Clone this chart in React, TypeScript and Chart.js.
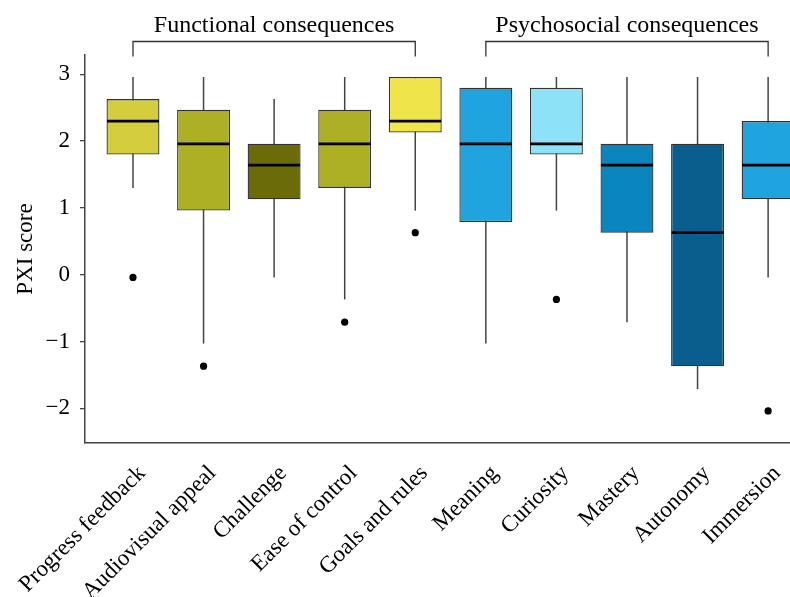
import React, { useEffect, useRef } from 'react';
import { Chart, registerables } from 'chart.js';

Chart.register(...registerables);

const FONT = "'Liberation Serif', 'Times New Roman', serif";

const categories = [
  'Progress feedback',
  'Audiovisual appeal',
  'Challenge',
  'Ease of control',
  'Goals and rules',
  'Meaning',
  'Curiosity',
  'Mastery',
  'Autonomy',
  'Immersion',
];
const whiskerLow = [1.3, -1.03, -0.04, -0.37, 0.96, -1.03, 0.96, -0.71, -1.71, -0.04];
const q1 = [1.8, 0.96, 1.13, 1.3, 2.13, 0.79, 1.8, 0.63, -1.37, 1.13];
const median = [2.3, 1.96, 1.64, 1.96, 2.3, 1.96, 1.96, 1.64, 0.63, 1.64];
const q3 = [2.63, 2.47, 1.96, 2.47, 2.96, 2.8, 2.8, 1.96, 1.96, 2.3];
const whiskerHigh = [2.96, 2.96, 2.63, 2.96, 2.96, 2.96, 2.96, 2.96, 2.96, 2.96];
const boxColors = [
  '#D4CD3D',
  '#ADB025',
  '#6B6B07',
  '#ADB025',
  '#F0E44B',
  '#1FA4E0',
  '#8DE2F7',
  '#0A85BD',
  '#0A5E8E',
  '#1FA4E0',
];
const outlierCategory = [1, 2, 4, 5, 7, 10];
const outlierValue = [-0.04, -1.37, -0.71, 0.63, -0.37, -2.04];
const yTicks = [-2, -1, 0, 1, 2, 3];
const groupLabels = ['Functional consequences', 'Psychosocial consequences'];
const groupFrom = [1, 6];
const groupTo = [5, 10];

const boxPartsPlugin = {
  id: 'boxParts',
  beforeDatasetsDraw(chart: any) {
    const { ctx, scales } = chart;
    const xs = scales.x;
    const ys = scales.y;
    ctx.save();
    ctx.strokeStyle = '#444';
    ctx.lineWidth = 1.5;
    categories.forEach((_, i) => {
      const x = xs.getPixelForValue(i + 1);
      ctx.beginPath();
      ctx.moveTo(x, ys.getPixelForValue(whiskerLow[i]));
      ctx.lineTo(x, ys.getPixelForValue(whiskerHigh[i]));
      ctx.stroke();
    });
    ctx.restore();
  },
  afterDatasetsDraw(chart: any) {
    const { ctx, scales, chartArea } = chart;
    const ys = scales.y;
    const meta = chart.getDatasetMeta(0);
    ctx.save();
    ctx.beginPath();
    ctx.rect(chartArea.left, chartArea.top, chartArea.right - chartArea.left, chartArea.bottom - chartArea.top);
    ctx.clip();
    ctx.strokeStyle = '#000';
    ctx.lineWidth = 2.8;
    meta.data.forEach((el: any, i: number) => {
      const { x, width } = el.getProps(['x', 'width'], true);
      const y = ys.getPixelForValue(median[i]);
      ctx.beginPath();
      ctx.moveTo(x - width / 2 + 0.5, y);
      ctx.lineTo(x + width / 2 - 0.5, y);
      ctx.stroke();
    });
    ctx.restore();
  },
};

const groupPlugin = {
  id: 'groupBrackets',
  afterDraw(chart: any) {
    const { ctx, chartArea, scales } = chart;
    const xs = scales.x;
    ctx.save();
    ctx.strokeStyle = '#333';
    ctx.lineWidth = 1.3;
    ctx.fillStyle = '#000';
    ctx.font = `24px ${FONT}`;
    ctx.textAlign = 'center';
    ctx.textBaseline = 'alphabetic';
    groupLabels.forEach((label, g) => {
      const x1 = xs.getPixelForValue(groupFrom[g]);
      const x2 = xs.getPixelForValue(groupTo[g]);
      const yLine = chartArea.top - 13.5;
      const yEnd = chartArea.top + 1.5;
      ctx.beginPath();
      ctx.moveTo(x1, yEnd);
      ctx.lineTo(x1, yLine);
      ctx.lineTo(x2, yLine);
      ctx.lineTo(x2, yEnd);
      ctx.stroke();
      ctx.fillText(label, (x1 + x2) / 2, chartArea.top - 23.5);
    });
    ctx.restore();
  },
};

export default function App() {
  const ref = useRef<HTMLCanvasElement | null>(null);

  useEffect(() => {
    if (!ref.current) return;
    const chart = new Chart(ref.current, {
      type: 'bar',
      data: {
        datasets: [
          {
            type: 'bar',
            data: categories.map((_, i) => ({ x: i + 1, y: [q1[i], q3[i]] })) as any,
            backgroundColor: boxColors,
            borderColor: '#333',
            borderWidth: 1.3,
            borderSkipped: false,
            barPercentage: 0.75,
            categoryPercentage: 1,
            grouped: false,
          } as any,
          {
            type: 'scatter',
            data: outlierCategory.map((c, i) => ({ x: c, y: outlierValue[i] })),
            backgroundColor: '#000',
            borderWidth: 0,
            pointRadius: 3.6,
          } as any,
        ],
      },
      options: {
        animation: false,
        responsive: false,
        devicePixelRatio: 1,
        layout: { autoPadding: false, padding: { top: 55, left: 0, right: 0, bottom: 0 } },
        plugins: { legend: { display: false }, tooltip: { enabled: false } },
        scales: {
          x: {
            type: 'linear',
            position: 'bottom',
            offset: false,
            min: 0.32,
            max: 10.31,
            afterBuildTicks: (scale: any) => {
              scale.ticks = categories.map((_, i) => ({ value: i + 1 }));
            },
            afterFit: (scale: any) => {
              scale.height = 154;
              scale.paddingRight = 0;
              scale.paddingLeft = 0;
            },
            grid: { display: false, drawTicks: false, offset: false },
            border: { display: true, color: '#444', width: 1.5 },
            ticks: {
              autoSkip: false,
              maxRotation: 45,
              minRotation: 45,
              padding: 17,
              labelOffset: 9,
              color: '#000',
              font: { family: FONT, size: 23 },
              callback: (v: any) => categories[Math.round(Number(v)) - 1],
            },
          },
          y: {
            type: 'linear',
            min: -2.52,
            max: 3.29,
            afterBuildTicks: (scale: any) => {
              scale.ticks = yTicks.map((v) => ({ value: v }));
            },
            afterFit: (scale: any) => {
              scale.width = 85;
            },
            grid: {
              display: true,
              drawOnChartArea: false,
              drawTicks: true,
              tickLength: 5,
              color: '#444',
              lineWidth: 1.3,
            },
            border: { display: true, color: '#444', width: 1.5 },
            title: {
              display: true,
              text: 'PXI score',
              color: '#000',
              font: { family: FONT, size: 23 },
              padding: { top: 12, bottom: 0 },
            },
            ticks: {
              padding: 10,
              color: '#000',
              font: { family: FONT, size: 23 },
              callback: (v: any) => String(v).replace('-', '\u2212'),
            },
          },
        },
      } as any,
      plugins: [boxPartsPlugin, groupPlugin],
    });
    return () => chart.destroy();
  }, []);

  return (
    <div style={{ position: 'absolute', left: 0, top: 0, width: 790, height: 597, background: '#fff' }}>
      <canvas ref={ref} width={790} height={597} style={{ width: 790, height: 597, display: 'block' }} />
    </div>
  );
}
